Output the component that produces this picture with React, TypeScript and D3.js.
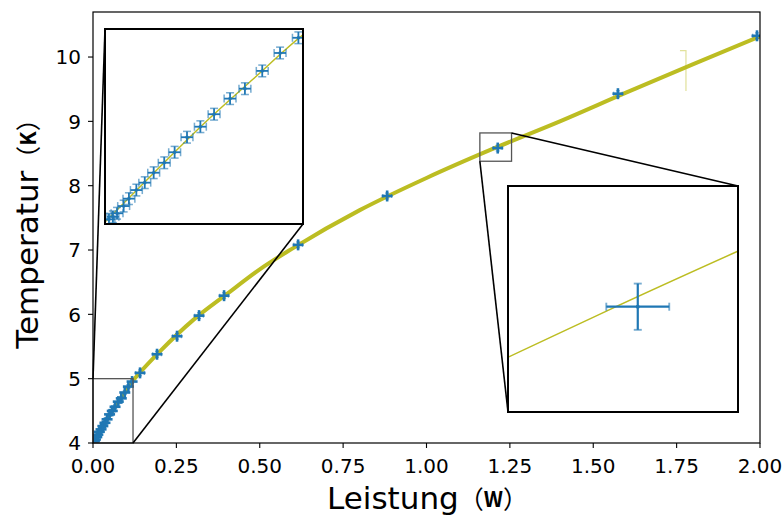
import React from "react";
import * as d3 from "d3";

// ---- data ----
const power = [
  0.0024, 0.0048, 0.0073, 0.0113, 0.0145, 0.019, 0.0241, 0.0295, 0.0359, 0.0422,
  0.0497, 0.0578, 0.0661, 0.0758, 0.0848, 0.0953, 0.1061, 0.1172,
  0.141, 0.192, 0.252, 0.318, 0.393, 0.615, 0.882, 1.2136, 1.574, 1.991,
];
const temperature = [
  4.024, 4.037, 4.055, 4.092, 4.13, 4.174, 4.212, 4.263, 4.314, 4.368,
  4.445, 4.499, 4.563, 4.643, 4.694, 4.785, 4.877, 4.955,
  5.09, 5.38, 5.66, 5.98, 6.29, 7.08, 7.84, 8.585, 9.43, 10.33,
];
const powerErr = [
  0.0036, 0.0036, 0.0036, 0.0036, 0.0036, 0.0036, 0.0036, 0.0036, 0.0036, 0.0036,
  0.0036, 0.0036, 0.0036, 0.0036, 0.0036, 0.0036, 0.0036, 0.0036,
  0.013, 0.013, 0.013, 0.013, 0.013, 0.013, 0.013, 0.013, 0.013, 0.013,
];
const temperatureErr = [
  0.03, 0.03, 0.03, 0.03, 0.03, 0.03, 0.03, 0.03, 0.03, 0.03,
  0.03, 0.03, 0.03, 0.03, 0.03, 0.03, 0.03, 0.03,
  0.045, 0.045, 0.045, 0.045, 0.045, 0.045, 0.045, 0.045, 0.045, 0.045,
];
const fitPower = [0, 0.03, 0.06, 0.09, 0.12, 0.14, 0.2, 0.3, 0.4, 0.5, 0.6, 0.8, 1.0, 1.2, 1.4, 1.6, 1.8, 2.0];
const fitTemperature = [4.01, 4.265, 4.515, 4.745, 4.97, 5.09, 5.42, 5.91, 6.31, 6.7, 7.03, 7.62, 8.12, 8.575, 9.0, 9.45, 9.89, 10.32];
const xTicks = [0, 0.25, 0.5, 0.75, 1.0, 1.25, 1.5, 1.75, 2.0];
const yTicks = [4, 5, 6, 7, 8, 9, 10];
const mainXDomain = [0, 2];
const mainYDomain = [4, 10.7];
const inset1XDomain = [0, 0.12];
const inset1YDomain = [4, 5];
const inset2XDomain = [1.16, 1.255];
const inset2YDomain = [8.38, 8.82];
const strayPower = [1.76, 1.778, 1.778];
const strayTemp = [10.1, 10.1, 9.47];

const BLUE = "#1f77b4";
const OLIVE = "#bcbd22";
const FONT = "'DejaVu Sans', sans-serif";
const CJK = "'Noto Sans CJK SC', 'DejaVu Sans', sans-serif";

const W = 783;
const H = 515;
const M = { left: 93, right: 760, top: 12, bottom: 443 };
const INSET1 = { x: 105, y: 29, w: 198, h: 195 };
const INSET2 = { x: 508, y: 186, w: 230, h: 226 };

type Scale = d3.ScaleLinear<number, number>;

function Panel({ xs, ys, id, lineW, errW, capLen, plus, dot }: {
  xs: Scale; ys: Scale; id: string; lineW: number; errW: number; capLen: number; plus: boolean; dot: number;
}) {
  const line = d3.line<number>()
    .x((_, i) => xs(fitPower[i]))
    .y((t) => ys(t))
    .curve(d3.curveMonotoneX);
  const [x0, x1] = xs.range();
  const [y0, y1] = ys.range();
  return (
    <g clipPath={`url(#${id})`}>
      <clipPath id={id}>
        <rect x={x0} y={Math.min(y0, y1)} width={x1 - x0} height={Math.abs(y0 - y1)} />
      </clipPath>
      <path d={line(fitTemperature) || ""} fill="none" stroke={OLIVE} strokeWidth={lineW} />
      {power.map((p, i) => {
        const cx = xs(p);
        const cy = ys(temperature[i]);
        const xl = xs(p - powerErr[i]);
        const xr = xs(p + powerErr[i]);
        const yt = ys(temperature[i] + temperatureErr[i]);
        const yb = ys(temperature[i] - temperatureErr[i]);
        return (
          <g key={i}>
            <line x1={xl} x2={xr} y1={cy} y2={cy} stroke={BLUE} strokeWidth={errW} />
            <line x1={cx} x2={cx} y1={yt} y2={yb} stroke={BLUE} strokeWidth={errW} />
            <g stroke={BLUE} strokeWidth={errW * 0.85} opacity={0.6}>
              <line x1={xl} x2={xl} y1={cy - capLen} y2={cy + capLen} />
              <line x1={xr} x2={xr} y1={cy - capLen} y2={cy + capLen} />
              <line x1={cx - capLen} x2={cx + capLen} y1={yt} y2={yt} />
              <line x1={cx - capLen} x2={cx + capLen} y1={yb} y2={yb} />
            </g>
            {plus && (
              <g stroke={BLUE} strokeWidth={2.6}>
                <line x1={cx - 5.5} x2={cx + 5.5} y1={cy} y2={cy} />
                <line x1={cx} x2={cx} y1={cy - 5.5} y2={cy + 5.5} />
              </g>
            )}
            {dot > 0 && <circle cx={cx} cy={cy} r={dot} fill={BLUE} />}
          </g>
        );
      })}
    </g>
  );
}

export default function App() {
  const x = d3.scaleLinear().domain(mainXDomain).range([M.left, M.right]);
  const y = d3.scaleLinear().domain(mainYDomain).range([M.bottom, M.top]);
  const x1 = d3.scaleLinear().domain(inset1XDomain).range([INSET1.x, INSET1.x + INSET1.w]);
  const y1 = d3.scaleLinear().domain(inset1YDomain).range([INSET1.y + INSET1.h, INSET1.y]);
  const x2 = d3.scaleLinear().domain(inset2XDomain).range([INSET2.x, INSET2.x + INSET2.w]);
  const y2 = d3.scaleLinear().domain(inset2YDomain).range([INSET2.y + INSET2.h, INSET2.y]);

  const r1 = { l: x(inset1XDomain[0]), r: x(inset1XDomain[1]), t: y(inset1YDomain[1]), b: y(inset1YDomain[0]) };
  const r2 = { l: x(inset2XDomain[0]), r: x(inset2XDomain[1]), t: y(inset2YDomain[1]), b: y(inset2YDomain[0]) };

  const stray = d3.line<number>().x((p) => x(p)).y((_, i) => y(strayTemp[i]));

  return (
    <svg width={W} height={H} style={{ position: "absolute", left: 0, top: 0, background: "#fff" }} fontFamily={FONT}>
      <rect x={0} y={0} width={W} height={H} fill="#fff" />
      <Panel xs={x} ys={y} id="clipMain" lineW={4} errW={1.5} capLen={2} plus={true} dot={0} />
      <path d={stray(strayPower) || ""} fill="none" stroke={OLIVE} strokeOpacity={0.45} strokeWidth={1.2} />

      <rect x={r1.l} y={r1.t} width={r1.r - r1.l} height={r1.b - r1.t} fill="none" stroke="#555" strokeWidth={1.3} />
      <rect x={r2.l} y={r2.t} width={r2.r - r2.l} height={r2.b - r2.t} fill="none" stroke="#555" strokeWidth={1.3} />

      <g stroke="#000" strokeWidth={1.6}>
        <line x1={r1.l} y1={r1.t} x2={INSET1.x} y2={INSET1.y} />
        <line x1={r1.r} y1={r1.b} x2={INSET1.x + INSET1.w} y2={INSET1.y + INSET1.h} />
        <line x1={r2.r} y1={r2.t} x2={INSET2.x + INSET2.w} y2={INSET2.y} />
        <line x1={r2.l} y1={r2.b} x2={INSET2.x} y2={INSET2.y + INSET2.h} />
      </g>

      <rect x={M.left} y={M.top} width={M.right - M.left} height={M.bottom - M.top} fill="none" stroke="#000" strokeWidth={1.2} />
      {xTicks.map((t) => (
        <g key={"x" + t}>
          <line x1={x(t)} x2={x(t)} y1={M.bottom} y2={M.bottom + 5} stroke="#000" strokeWidth={1.1} />
          <text x={x(t)} y={M.bottom + 30} textAnchor="middle" fontSize={20} fill="#000">{d3.format(".2f")(t)}</text>
        </g>
      ))}
      {yTicks.map((t) => (
        <g key={"y" + t}>
          <line x1={M.left - 5} x2={M.left} y1={y(t)} y2={y(t)} stroke="#000" strokeWidth={1.1} />
          <text x={M.left - 12} y={y(t)} dy="0.36em" textAnchor="end" fontSize={20} fill="#000">{t}</text>
        </g>
      ))}
      <text x={(M.left + M.right) / 2 + 1} y={509} textAnchor="middle" fontSize={31} fill="#000">
        Leistung<tspan fontFamily={CJK} fontSize={25}>（</tspan>
        <tspan fontFamily={CJK} fontSize={21} fontWeight="bold" dy={-2}>W</tspan>
        <tspan fontFamily={CJK} fontSize={25} dy={2}>）</tspan>
      </text>
      <text transform={`translate(38,${(M.top + M.bottom) / 2}) rotate(-90)`} textAnchor="middle" fontSize={31} fill="#000">
        Temperatur<tspan fontFamily={CJK} fontSize={25}>（</tspan>
        <tspan fontFamily={CJK} fontSize={21} fontWeight="bold" dy={-2}>K</tspan>
        <tspan fontFamily={CJK} fontSize={25} dy={2}>）</tspan>
      </text>

      <rect x={INSET1.x} y={INSET1.y} width={INSET1.w} height={INSET1.h} fill="#fff" />
      <Panel xs={x1} ys={y1} id="clipIn1" lineW={1.5} errW={1.8} capLen={4} plus={false} dot={1.8} />
      <rect x={INSET1.x} y={INSET1.y} width={INSET1.w} height={INSET1.h} fill="none" stroke="#000" strokeWidth={2} />

      <rect x={INSET2.x} y={INSET2.y} width={INSET2.w} height={INSET2.h} fill="#fff" />
      <Panel xs={x2} ys={y2} id="clipIn2" lineW={1.5} errW={2.2} capLen={4} plus={false} dot={2} />
      <rect x={INSET2.x} y={INSET2.y} width={INSET2.w} height={INSET2.h} fill="none" stroke="#000" strokeWidth={2} />
    </svg>
  );
}
